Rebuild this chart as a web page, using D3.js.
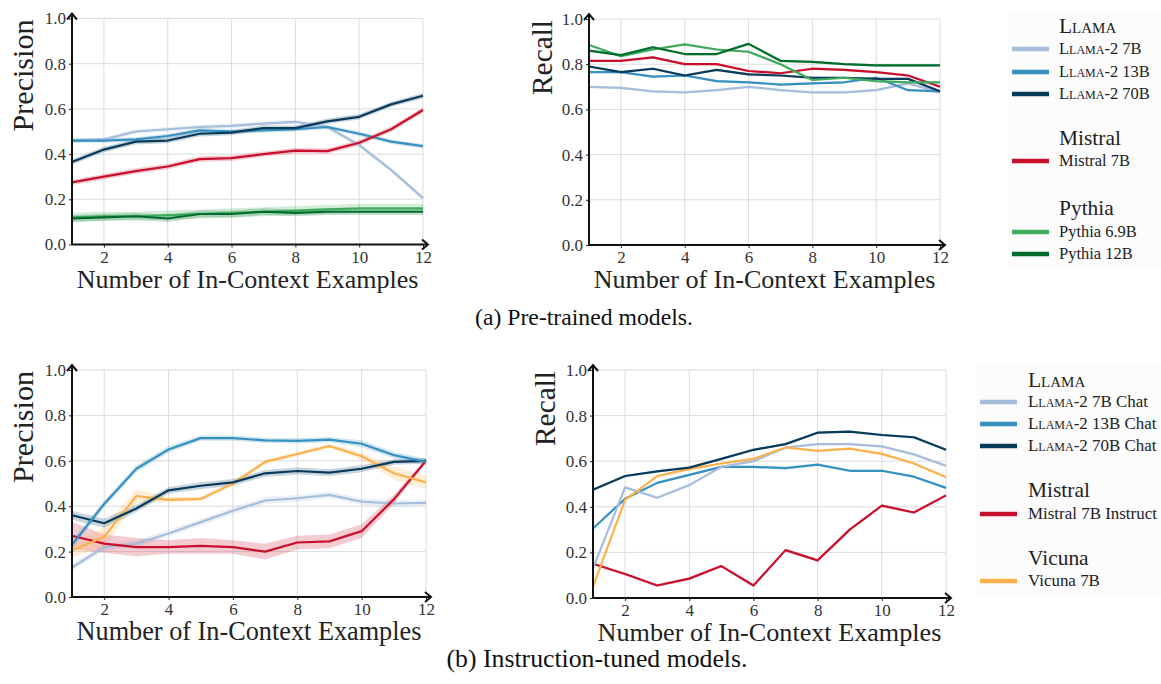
<!DOCTYPE html>
<html>
<head>
<meta charset="utf-8">
<script src="https://cdn.jsdelivr.net/npm/d3@7"></script>
<style>
  body { margin: 0; background: #fff; }
  svg { display: block; }
  svg text { font-family: "Liberation Serif", "DejaVu Serif", "Tinos", "Nimbus Roman", "FreeSerif", "Noto Serif", Georgia, serif; }
</style>
</head>
<body>
<div class="chart-container"></div>
<script>
const W = 1161, H = 684;

// Number of in-context examples on the x axis
const shots = [1, 2, 3, 4, 5, 6, 7, 8, 9, 10, 11, 12];
const xTicks = [2, 4, 6, 8, 10, 12];
const yTicks = [0, 0.2, 0.4, 0.6, 0.8, 1.0];

// (a) pre-trained models, precision
const preLlama7P  = [0.46, 0.465, 0.50, 0.51, 0.52, 0.525, 0.535, 0.543, 0.52, 0.44, 0.33, 0.205];
const preLlama13P = [0.46, 0.46, 0.465, 0.48, 0.505, 0.50, 0.505, 0.51, 0.52, 0.49, 0.455, 0.435];
const preLlama70P = [0.365, 0.42, 0.455, 0.46, 0.49, 0.495, 0.515, 0.515, 0.545, 0.565, 0.62, 0.658];
const preMistralP = [0.275, 0.30, 0.325, 0.345, 0.378, 0.382, 0.40, 0.415, 0.413, 0.45, 0.51, 0.595];
const prePythia69P = [0.12, 0.125, 0.125, 0.13, 0.135, 0.14, 0.145, 0.15, 0.155, 0.16, 0.16, 0.16];
const prePythia12P = [0.115, 0.12, 0.125, 0.115, 0.135, 0.135, 0.145, 0.14, 0.145, 0.145, 0.145, 0.145];

// (a) pre-trained models, recall
const preLlama7R  = [0.70, 0.695, 0.68, 0.675, 0.685, 0.70, 0.685, 0.675, 0.675, 0.685, 0.715, 0.675];
const preLlama13R = [0.765, 0.765, 0.745, 0.75, 0.725, 0.72, 0.71, 0.715, 0.72, 0.74, 0.685, 0.68];
const preLlama70R = [0.79, 0.765, 0.78, 0.75, 0.775, 0.755, 0.75, 0.74, 0.74, 0.735, 0.735, 0.68];
const preMistralR = [0.815, 0.815, 0.83, 0.80, 0.80, 0.77, 0.76, 0.78, 0.775, 0.765, 0.75, 0.70];
const prePythia69R = [0.885, 0.835, 0.865, 0.888, 0.865, 0.855, 0.80, 0.73, 0.74, 0.725, 0.72, 0.72];
const prePythia12R = [0.86, 0.84, 0.875, 0.845, 0.845, 0.89, 0.815, 0.81, 0.80, 0.795, 0.795, 0.795];

// (b) instruction-tuned models, precision
const chatLlama7P  = [0.13, 0.22, 0.235, 0.28, 0.33, 0.38, 0.425, 0.435, 0.45, 0.42, 0.412, 0.415];
const chatLlama13P = [0.23, 0.41, 0.565, 0.65, 0.70, 0.70, 0.69, 0.688, 0.693, 0.675, 0.625, 0.595];
const chatLlama70P = [0.36, 0.325, 0.39, 0.47, 0.49, 0.505, 0.545, 0.555, 0.548, 0.565, 0.595, 0.60];
const chatMistralP = [0.27, 0.235, 0.22, 0.22, 0.225, 0.22, 0.20, 0.24, 0.245, 0.29, 0.43, 0.60];
const chatVicunaP  = [0.205, 0.265, 0.445, 0.428, 0.432, 0.50, 0.595, 0.63, 0.665, 0.62, 0.545, 0.505];

// (b) instruction-tuned models, recall
const chatLlama7R  = [0.13, 0.485, 0.44, 0.495, 0.575, 0.60, 0.66, 0.675, 0.675, 0.665, 0.63, 0.58];
const chatLlama13R = [0.305, 0.435, 0.505, 0.54, 0.575, 0.575, 0.57, 0.585, 0.558, 0.558, 0.532, 0.483];
const chatLlama70R = [0.475, 0.535, 0.555, 0.572, 0.61, 0.65, 0.675, 0.725, 0.73, 0.715, 0.705, 0.65];
const chatMistralR = [0.15, 0.105, 0.055, 0.085, 0.14, 0.055, 0.21, 0.165, 0.30, 0.405, 0.375, 0.45];
const chatVicunaR  = [0.05, 0.43, 0.535, 0.565, 0.59, 0.61, 0.66, 0.645, 0.655, 0.632, 0.59, 0.53];

// Half-widths of the shaded bands (instruction-tuned precision)
const chatLlama7Band  = [0.015, 0.015, 0.015, 0.015, 0.015, 0.015, 0.015, 0.015, 0.015, 0.015, 0.015, 0.012];
const chatLlama13Band = [0.02, 0.015, 0.015, 0.015, 0.012, 0.012, 0.012, 0.012, 0.012, 0.015, 0.015, 0.015];
const chatLlama70Band = [0.02, 0.02, 0.015, 0.015, 0.015, 0.015, 0.015, 0.015, 0.015, 0.015, 0.012, 0.012];
const chatMistralBand = [0.06, 0.04, 0.04, 0.03, 0.035, 0.03, 0.035, 0.03, 0.03, 0.03, 0.02, 0.01];
const chatVicunaBand  = [0.03, 0.045, 0.03, 0.012, 0.01, 0.01, 0.01, 0.01, 0.01, 0.015, 0.03, 0.03];

const color = {
  llama7: '#a6bddb',
  llama13: '#3690c0',
  llama70: '#073b5c',
  mistral: '#c8102e',
  pythia69: '#41ab5d',
  pythia12: '#006d2c',
  vicuna: '#fdb14c'
};

const flat = v => shots.map(() => v);

const panels = [
  {x0: 72, x1: 423, y0: 244.5, y1: 18.5, label: 'Precision', labelX: 33, labelW: 112, series: [
    {c: color.pythia69, v: prePythia69P, b: flat(0.02)},
    {c: color.pythia12, v: prePythia12P, b: flat(0.015)},
    {c: color.llama7, v: preLlama7P, b: flat(0.01)},
    {c: color.llama13, v: preLlama13P, b: flat(0.01)},
    {c: color.mistral, v: preMistralP, b: flat(0.012)},
    {c: color.llama70, v: preLlama70P, b: flat(0.012)}
  ]},
  {x0: 589, x1: 940, y0: 245, y1: 19, label: 'Recall', labelX: 552, labelW: 75, series: [
    {c: color.llama7, v: preLlama7R, b: flat(0.005)},
    {c: color.llama13, v: preLlama13R, b: flat(0.005)},
    {c: color.llama70, v: preLlama70R, b: flat(0.005)},
    {c: color.mistral, v: preMistralR, b: flat(0.005)},
    {c: color.pythia69, v: prePythia69R, b: flat(0.005)},
    {c: color.pythia12, v: prePythia12R, b: flat(0.005)}
  ]},
  {x0: 72, x1: 426, y0: 597, y1: 370, label: 'Precision', labelX: 33, labelW: 112, series: [
    {c: color.llama7, v: chatLlama7P, b: chatLlama7Band},
    {c: color.mistral, v: chatMistralP, b: chatMistralBand},
    {c: color.vicuna, v: chatVicunaP, b: chatVicunaBand},
    {c: color.llama70, v: chatLlama70P, b: chatLlama70Band},
    {c: color.llama13, v: chatLlama13P, b: chatLlama13Band}
  ]},
  {x0: 593, x1: 946, y0: 598, y1: 370, label: 'Recall', labelX: 555, labelW: 75, series: [
    {c: color.mistral, v: chatMistralR, b: flat(0.006)},
    {c: color.llama13, v: chatLlama13R, b: flat(0.005)},
    {c: color.llama7, v: chatLlama7R, b: flat(0.005)},
    {c: color.vicuna, v: chatVicunaR, b: flat(0.005)},
    {c: color.llama70, v: chatLlama70R, b: flat(0.005)}
  ]}
];

// Legend layout; itemSize is picked so that the widest entry matches the reference
const legends = [
  {lineX: 1012, textX: 1059, box: [1008, 13, 153, 255], fitName: 'Mistral 7B', fitW: 71, groups: [
    {title: 'Llama', caps: true, y: 33, items: [
      {name: 'Llama-2 7B', c: color.llama7, y: 49},
      {name: 'Llama-2 13B', c: color.llama13, y: 72},
      {name: 'Llama-2 70B', c: color.llama70, y: 94}
    ]},
    {title: 'Mistral', y: 145, items: [{name: 'Mistral 7B', c: color.mistral, y: 161}]},
    {title: 'Pythia', y: 215, items: [
      {name: 'Pythia 6.9B', c: color.pythia69, y: 232},
      {name: 'Pythia 12B', c: color.pythia12, y: 254}
    ]}
  ]},
  {lineX: 980, textX: 1028, box: [976, 366, 185, 232], fitName: 'Mistral 7B Instruct', fitW: 129, groups: [
    {title: 'Llama', caps: true, y: 387, items: [
      {name: 'Llama-2 7B', tail: ' Chat', c: color.llama7, y: 402},
      {name: 'Llama-2 13B', tail: ' Chat', c: color.llama13, y: 424},
      {name: 'Llama-2 70B', tail: ' Chat', c: color.llama70, y: 446}
    ]},
    {title: 'Mistral', y: 497, items: [{name: 'Mistral 7B Instruct', c: color.mistral, y: 514}]},
    {title: 'Vicuna', y: 565, items: [{name: 'Vicuna 7B', c: color.vicuna, y: 581}]}
  ]}
];

const svg = d3.select('.chart-container')
  .append('svg')
  .attr('width', W)
  .attr('height', H);

// Scale a text's font size so that it spans the width measured on the reference
function fitWidth(text, size, width) {
  text.attr('font-size', size);
  const w = text.node().getComputedTextLength();
  if (w > 0) text.attr('font-size', size * width / w);
  return +text.attr('font-size');
}

function drawPanel(p) {
  const x = d3.scaleLinear().domain([1, 12]).range([p.x0, p.x1]);
  const y = d3.scaleLinear().domain([0, 1]).range([p.y0, p.y1]);
  const g = svg.append('g');

  // grid
  g.append('g').selectAll('line').data(xTicks).join('line')
    .attr('x1', d => x(d)).attr('x2', d => x(d))
    .attr('y1', p.y0).attr('y2', p.y1)
    .attr('stroke', '#dcdcdc').attr('stroke-width', 1);
  g.append('g').selectAll('line').data(yTicks.slice(1)).join('line')
    .attr('x1', p.x0).attr('x2', p.x1)
    .attr('y1', d => y(d)).attr('y2', d => y(d))
    .attr('stroke', '#dcdcdc').attr('stroke-width', 1);

  const area = d3.area()
    .x((d, i) => x(shots[i]))
    .y0(d => y(d[0] - d[1]))
    .y1(d => y(d[0] + d[1]));
  const line = d3.line()
    .x((d, i) => x(shots[i]))
    .y(d => y(d));

  p.series.forEach(s => {
    g.append('path')
      .datum(s.v.map((v, i) => [v, s.b[i]]))
      .attr('d', area)
      .attr('fill', s.c)
      .attr('fill-opacity', 0.22);
  });
  p.series.forEach(s => {
    g.append('path')
      .datum(s.v)
      .attr('d', line)
      .attr('fill', 'none')
      .attr('stroke', s.c)
      .attr('stroke-width', 2.2)
      .attr('stroke-linejoin', 'round');
  });

  // axes
  const xa = g.append('g')
    .attr('transform', `translate(0,${p.y0})`)
    .call(d3.axisBottom(x).tickValues(xTicks).tickSize(3).tickPadding(3));
  const ya = g.append('g')
    .attr('transform', `translate(${p.x0},0)`)
    .call(d3.axisLeft(y).tickValues(yTicks).tickFormat(d3.format('.1f')).tickSize(3).tickPadding(3));
  [xa, ya].forEach(a => {
    a.attr('font-family', null);
    a.select('.domain').remove();
    a.selectAll('line').attr('stroke', '#222');
    a.selectAll('text')
      .attr('font-size', 17)
      .attr('fill', '#333');
  });

  // axis lines with arrows
  g.append('line')
    .attr('x1', p.x0).attr('x2', p.x1 + 5)
    .attr('y1', p.y0).attr('y2', p.y0)
    .attr('stroke', '#111').attr('stroke-width', 2);
  g.append('line')
    .attr('x1', p.x0).attr('x2', p.x0)
    .attr('y1', p.y0).attr('y2', p.y1 - 5)
    .attr('stroke', '#111').attr('stroke-width', 2);
  g.append('path')
    .attr('d', `M${p.x1 - 1},${p.y0 - 5} L${p.x1 + 5},${p.y0} L${p.x1 - 1},${p.y0 + 5}`)
    .attr('fill', 'none').attr('stroke', '#111').attr('stroke-width', 2);
  g.append('path')
    .attr('d', `M${p.x0 - 5},${p.y1 + 1} L${p.x0},${p.y1 - 5} L${p.x0 + 5},${p.y1 + 1}`)
    .attr('fill', 'none').attr('stroke', '#111').attr('stroke-width', 2);

  // labels
  const yl = g.append('text')
    .attr('transform', `translate(${p.labelX},${p.y1 + 1}) rotate(-90)`)
    .attr('text-anchor', 'end')
    .attr('fill', '#222')
    .text(p.label);
  fitWidth(yl, 30, p.labelW);
  const xl = g.append('text')
    .attr('x', (p.x0 + p.x1) / 2)
    .attr('y', p.y0 + 43)
    .attr('text-anchor', 'middle')
    .attr('fill', '#222')
    .text('Number of In-Context Examples');
  fitWidth(xl, 26, p.x1 - p.x0 - 9);
}

panels.forEach(drawPanel);

function drawLegend(L) {
  const g = svg.append('g');
  g.append('rect')
    .attr('x', L.box[0]).attr('y', L.box[1])
    .attr('width', L.box[2]).attr('height', L.box[3])
    .attr('fill', '#fcfcfc');

  // measure the entry font size once
  const probe = g.append('text').text(L.fitName);
  const itemSize = fitWidth(probe, 16, L.fitW);
  probe.remove();
  const probeT = g.append('text').text('Mistral');
  const titleSize = fitWidth(probeT, 22, 62);
  probeT.remove();

  L.groups.forEach(grp => {
    g.append('text')
      .attr('x', L.textX).attr('y', grp.y)
      .attr('font-size', titleSize)
      .attr('fill', '#222')
      .style('font-variant', grp.caps ? 'small-caps' : 'normal')
      .text(grp.title);
    grp.items.forEach(it => {
      g.append('line')
        .attr('x1', L.lineX).attr('x2', L.lineX + 37)
        .attr('y1', it.y).attr('y2', it.y)
        .attr('stroke', it.c).attr('stroke-width', 4.5);
      const t = g.append('text')
        .attr('x', L.textX).attr('y', it.y + 5)
        .attr('font-size', itemSize)
        .attr('fill', '#222');
      if (grp.caps) {
        t.append('tspan').style('font-variant', 'small-caps').text(it.name);
        if (it.tail) t.append('tspan').text(it.tail);
      } else {
        t.text(it.name);
      }
    });
  });
}

legends.forEach(drawLegend);

const capA = svg.append('text')
  .attr('x', 584).attr('y', 325)
  .attr('text-anchor', 'middle')
  .attr('fill', '#111')
  .text('(a) Pre-trained models.');
fitWidth(capA, 20, 218);
const capB = svg.append('text')
  .attr('x', 597).attr('y', 667)
  .attr('text-anchor', 'middle')
  .attr('fill', '#111')
  .text('(b) Instruction-tuned models.');
fitWidth(capB, 20, 301);
</script>
</body>
</html>
